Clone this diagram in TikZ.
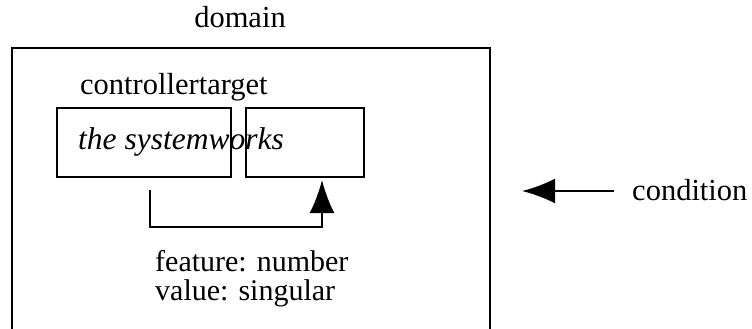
\documentclass[tikz,border=0pt]{standalone}
\usepackage{fontspec}
\setmainfont{Liberation Serif}
\usetikzlibrary{arrows.meta}
\begin{document}
\begin{tikzpicture}[x=1pt,y=-1pt,
  every node/.style={font=\fontsize{30.5}{34}\selectfont, inner sep=0pt},
  frame/.style={line width=2pt},
  boxnode/.style={draw, line width=2pt, minimum height=69pt, anchor=north west},
  conn/.style={line width=2pt, -{Latex[length=33pt,width=25pt]}}]
\useasboundingbox (0,0) rectangle (752,329);
\node[anchor=base] (domain) at (240,28) {domain};
\draw[frame] (12,340) -- (12,48) -- (490,48) -- (490,340);
\node[anchor=base west] (ct) at (80,95) {controllertarget};
\node[boxnode, minimum width=174pt] (b1) at (56,107) {};
\node[boxnode, minimum width=118pt] (b2) at (245,107) {};
\node[anchor=base west, font=\fontsize{31.5}{34}\selectfont\itshape] (sw) at (78,149) {the systemworks};
\coordinate (s) at (150,190);
\coordinate (t) at (322,180);
\draw[conn] (s) -- (150,227) -| (t);
\node[anchor=north west, align=left, font=\fontsize{30}{29}\selectfont] (fv) at (155,250) {feature: number\\value: singular};
\node[anchor=base west] (cond) at (632,200) {condition};
\coordinate (ce) at (614,191);
\coordinate (ct2) at (522,191);
\draw[conn] (ce) -- (ct2);
\end{tikzpicture}
\end{document}
